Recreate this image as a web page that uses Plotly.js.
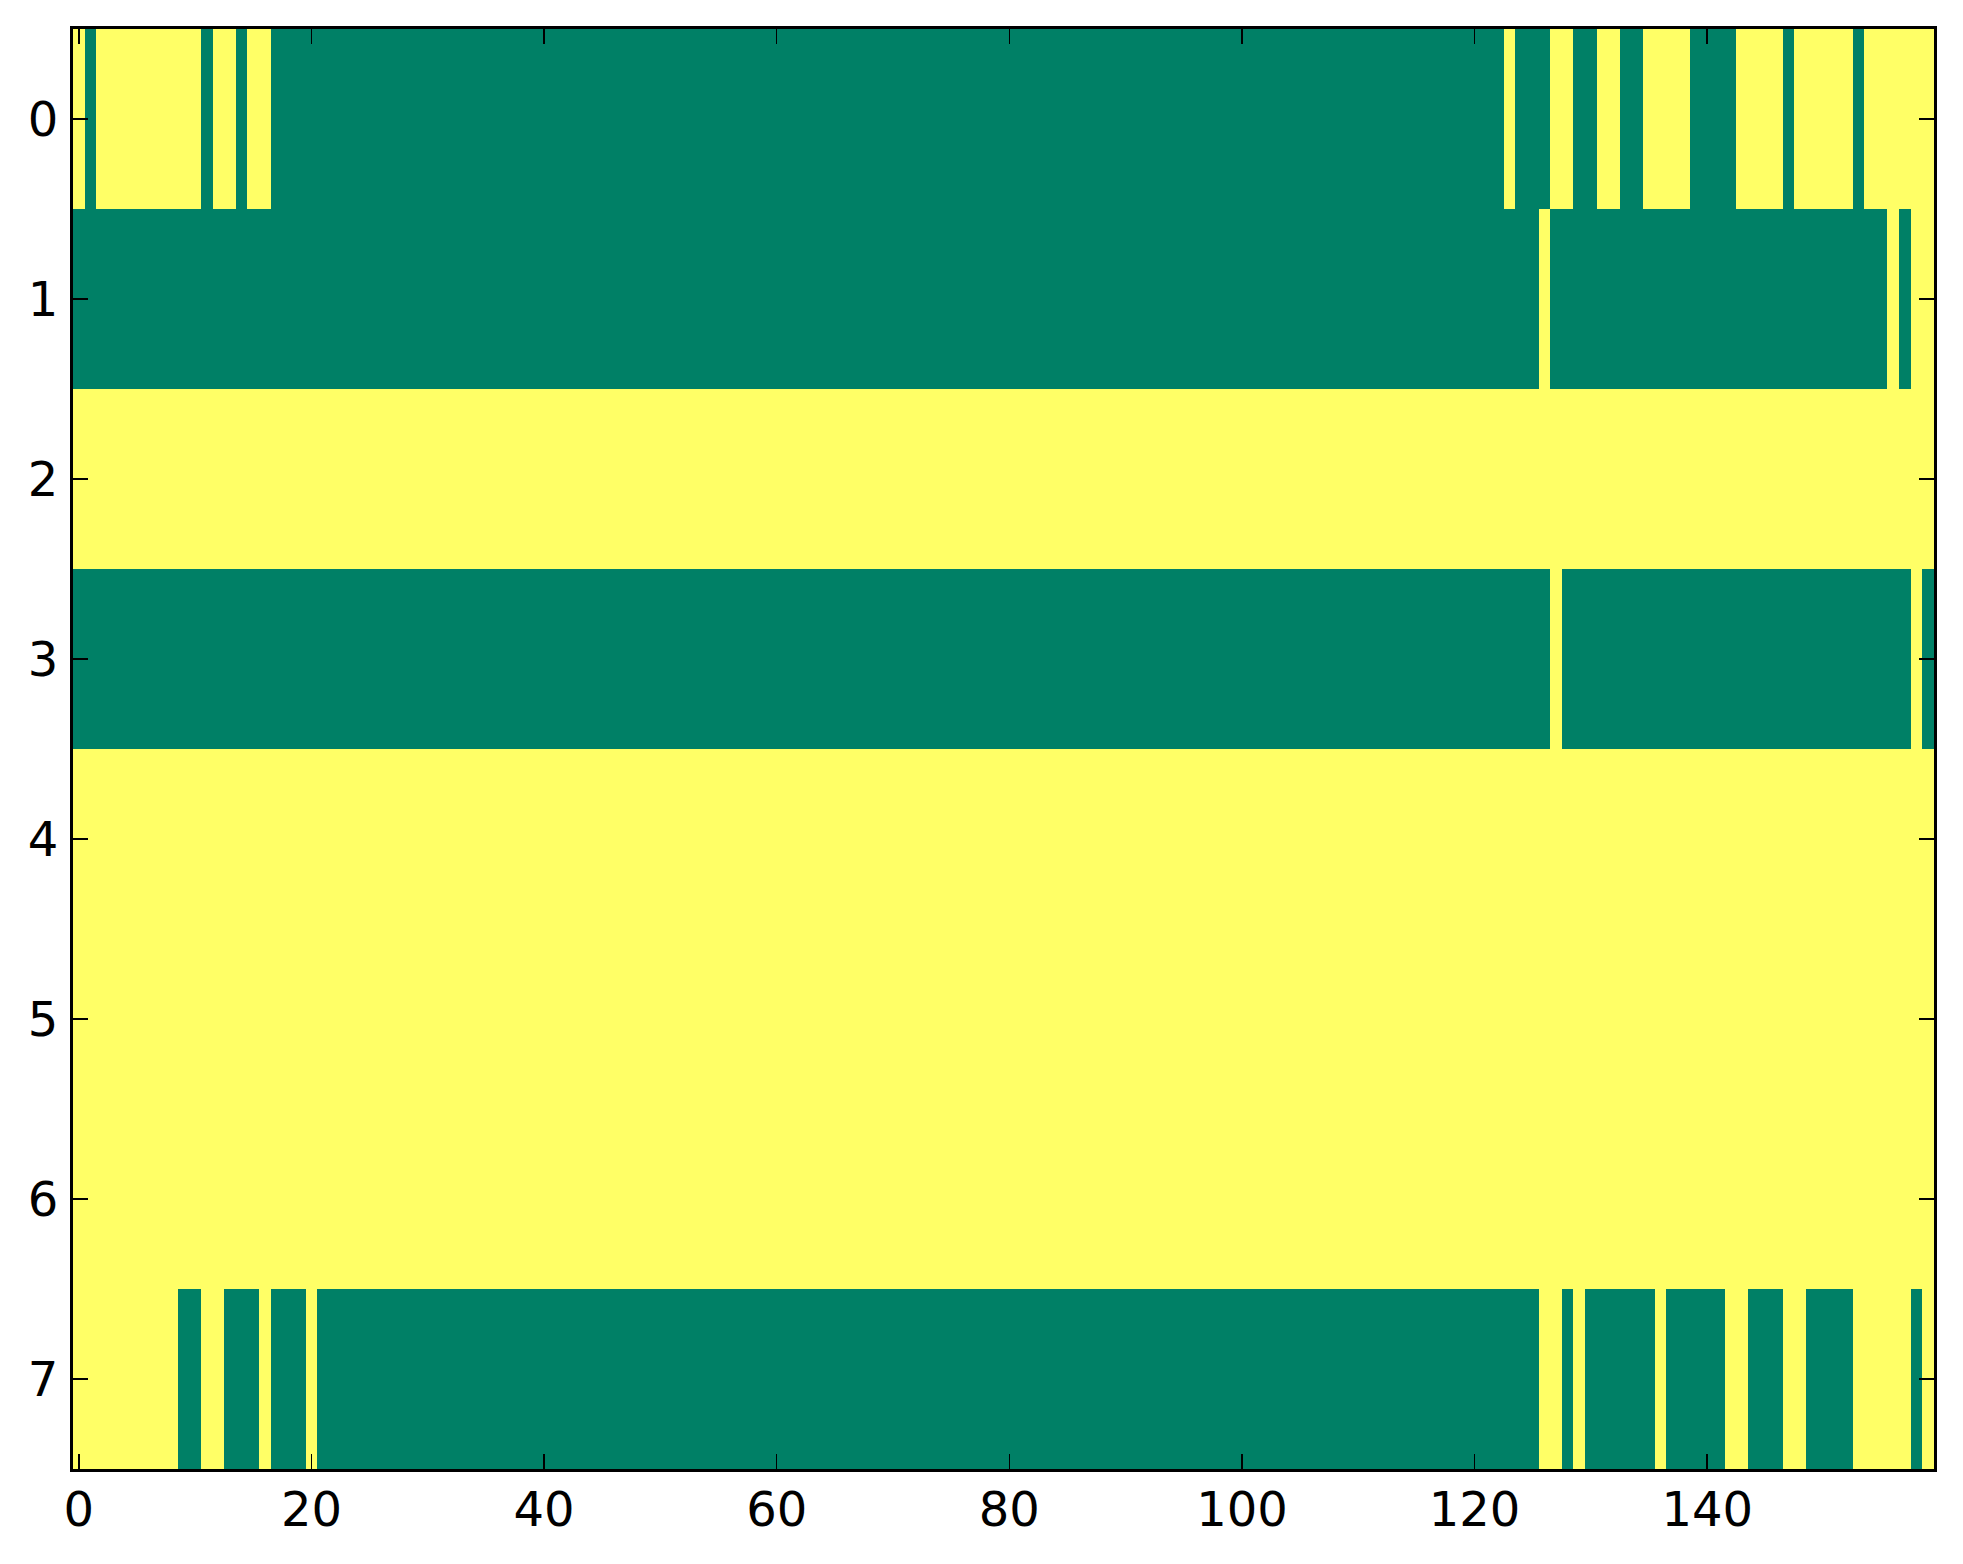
<!DOCTYPE html>
<html>
<head>
<meta charset="utf-8">
<script src="https://cdn.plot.ly/plotly-3.0.1.min.js"></script>
<style>
  html, body { margin: 0; padding: 0; background: #ffffff; }
  #chart { width: 1963px; height: 1564px; }
</style>
</head>
<body>
<div id="chart"></div>
<script>
// Row values (1 = yellow, 0 = green), 160 columns each, listed 20 per line
var row0 = [
  1,0,1,1,1,1,1,1,1,1,1,0,1,1,0,1,1,0,0,0,
  0,0,0,0,0,0,0,0,0,0,0,0,0,0,0,0,0,0,0,0,
  0,0,0,0,0,0,0,0,0,0,0,0,0,0,0,0,0,0,0,0,
  0,0,0,0,0,0,0,0,0,0,0,0,0,0,0,0,0,0,0,0,
  0,0,0,0,0,0,0,0,0,0,0,0,0,0,0,0,0,0,0,0,
  0,0,0,0,0,0,0,0,0,0,0,0,0,0,0,0,0,0,0,0,
  0,0,0,1,0,0,0,1,1,0,0,1,1,0,0,1,1,1,1,0,
  0,0,0,1,1,1,1,0,1,1,1,1,1,0,1,1,1,1,1,1
];
var row1 = [
  0,0,0,0,0,0,0,0,0,0,0,0,0,0,0,0,0,0,0,0,
  0,0,0,0,0,0,0,0,0,0,0,0,0,0,0,0,0,0,0,0,
  0,0,0,0,0,0,0,0,0,0,0,0,0,0,0,0,0,0,0,0,
  0,0,0,0,0,0,0,0,0,0,0,0,0,0,0,0,0,0,0,0,
  0,0,0,0,0,0,0,0,0,0,0,0,0,0,0,0,0,0,0,0,
  0,0,0,0,0,0,0,0,0,0,0,0,0,0,0,0,0,0,0,0,
  0,0,0,0,0,0,1,0,0,0,0,0,0,0,0,0,0,0,0,0,
  0,0,0,0,0,0,0,0,0,0,0,0,0,0,0,0,1,0,1,1
];
var row2 = [
  1,1,1,1,1,1,1,1,1,1,1,1,1,1,1,1,1,1,1,1,
  1,1,1,1,1,1,1,1,1,1,1,1,1,1,1,1,1,1,1,1,
  1,1,1,1,1,1,1,1,1,1,1,1,1,1,1,1,1,1,1,1,
  1,1,1,1,1,1,1,1,1,1,1,1,1,1,1,1,1,1,1,1,
  1,1,1,1,1,1,1,1,1,1,1,1,1,1,1,1,1,1,1,1,
  1,1,1,1,1,1,1,1,1,1,1,1,1,1,1,1,1,1,1,1,
  1,1,1,1,1,1,1,1,1,1,1,1,1,1,1,1,1,1,1,1,
  1,1,1,1,1,1,1,1,1,1,1,1,1,1,1,1,1,1,1,1
];
var row3 = [
  0,0,0,0,0,0,0,0,0,0,0,0,0,0,0,0,0,0,0,0,
  0,0,0,0,0,0,0,0,0,0,0,0,0,0,0,0,0,0,0,0,
  0,0,0,0,0,0,0,0,0,0,0,0,0,0,0,0,0,0,0,0,
  0,0,0,0,0,0,0,0,0,0,0,0,0,0,0,0,0,0,0,0,
  0,0,0,0,0,0,0,0,0,0,0,0,0,0,0,0,0,0,0,0,
  0,0,0,0,0,0,0,0,0,0,0,0,0,0,0,0,0,0,0,0,
  0,0,0,0,0,0,0,1,0,0,0,0,0,0,0,0,0,0,0,0,
  0,0,0,0,0,0,0,0,0,0,0,0,0,0,0,0,0,0,1,0
];
var row4 = row2.slice();
var row5 = row2.slice();
var row6 = row2.slice();
var row7 = [
  1,1,1,1,1,1,1,1,1,0,0,1,1,0,0,0,1,0,0,0,
  1,0,0,0,0,0,0,0,0,0,0,0,0,0,0,0,0,0,0,0,
  0,0,0,0,0,0,0,0,0,0,0,0,0,0,0,0,0,0,0,0,
  0,0,0,0,0,0,0,0,0,0,0,0,0,0,0,0,0,0,0,0,
  0,0,0,0,0,0,0,0,0,0,0,0,0,0,0,0,0,0,0,0,
  0,0,0,0,0,0,0,0,0,0,0,0,0,0,0,0,0,0,0,0,
  0,0,0,0,0,0,1,1,0,1,0,0,0,0,0,0,1,0,0,0,
  0,0,1,1,0,0,0,1,1,0,0,0,0,1,1,1,1,1,0,1
];

var xTickVals = [0, 20, 40, 60, 80, 100, 120, 140];
var yTickVals = [0, 1, 2, 3, 4, 5, 6, 7];

var z = [row0, row1, row2, row3, row4, row5, row6, row7];

var trace = {
  type: 'heatmap',
  z: z,
  zmin: 0,
  zmax: 1,
  colorscale: [[0, '#008066'], [1, '#ffff66']],
  showscale: false,
  hoverinfo: 'skip'
};

var axisCommon = {
  showline: true,
  linecolor: '#000000',
  linewidth: 3,
  mirror: 'allticks',
  ticks: 'inside',
  ticklen: 15,
  tickwidth: 1.5,
  tickcolor: '#000000',
  showgrid: false,
  zeroline: false,
  tickfont: { family: 'DejaVu Sans', size: 48, color: '#000000' }
};

var layout = {
  width: 1963,
  height: 1564,
  margin: { l: 73, r: 29, t: 29, b: 95, pad: 0 },
  paper_bgcolor: '#ffffff',
  plot_bgcolor: '#ffffff',
  showlegend: false,
  xaxis: Object.assign({}, axisCommon, {
    range: [-0.5, 159.5],
    tickmode: 'array',
    tickvals: xTickVals,
    ticktext: xTickVals.map(String),
    ticklabelstandoff: -4
  }),
  yaxis: Object.assign({}, axisCommon, {
    range: [7.5, -0.5],
    tickmode: 'array',
    tickvals: yTickVals,
    ticktext: yTickVals.map(String),
    ticklabelstandoff: 2
  })
};

Plotly.newPlot('chart', [trace], layout, { staticPlot: true, displayModeBar: false });
</script>
</body>
</html>
